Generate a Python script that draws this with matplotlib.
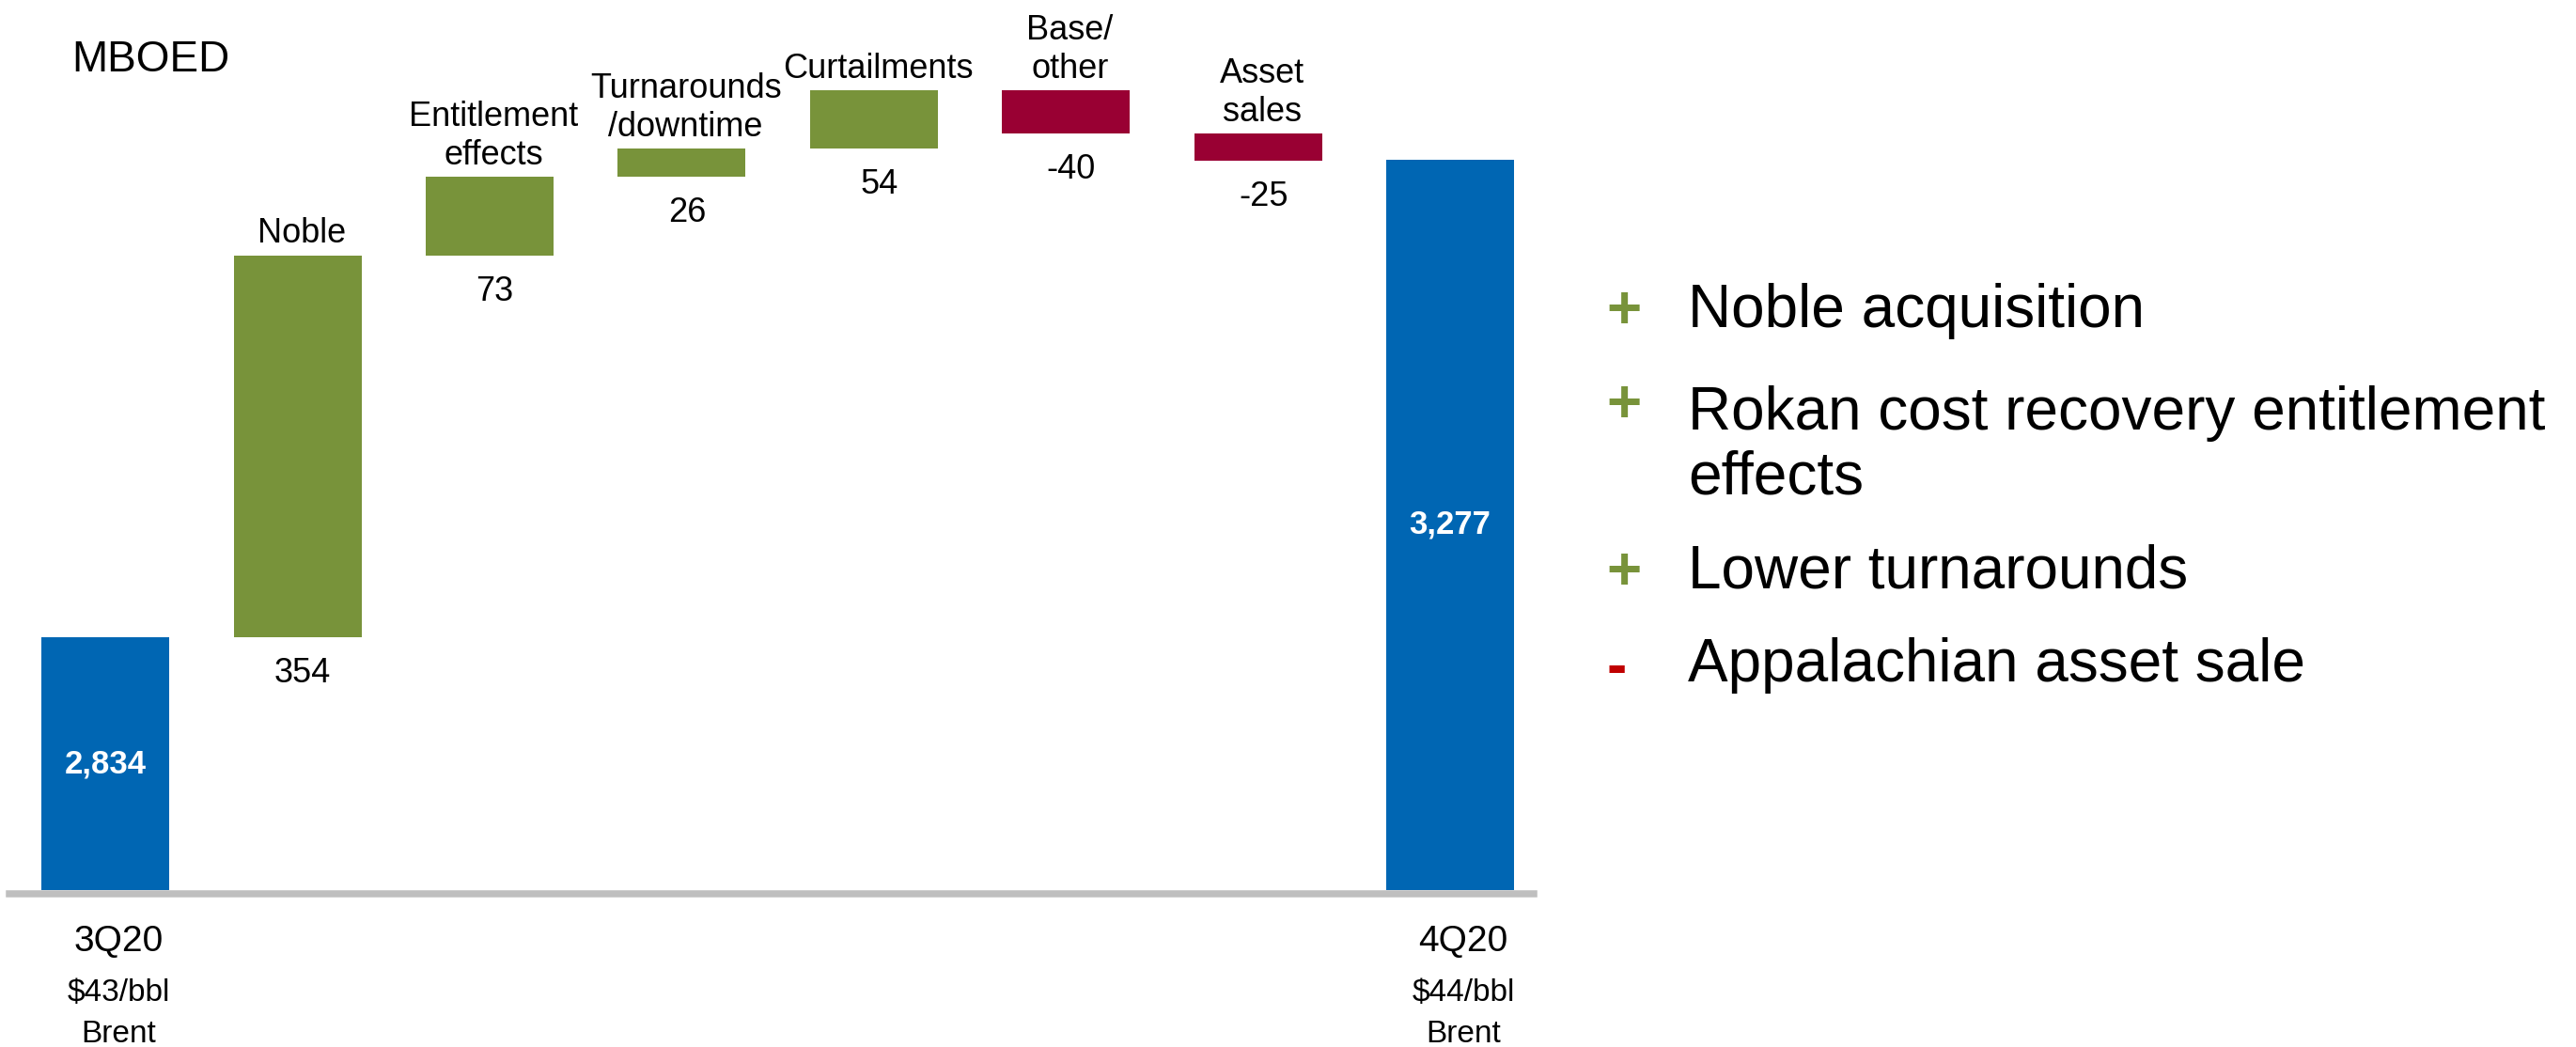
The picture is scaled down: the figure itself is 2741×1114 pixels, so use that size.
import numpy as np
import matplotlib
matplotlib.use("Agg")
import matplotlib.pyplot as plt
from matplotlib.lines import Line2D

plt.rcParams['font.family'] = ['Liberation Sans', 'DejaVu Sans']

# data
start_label = '3Q20'
end_label = '4Q20'
start_value = 2834
end_value = 3277
step_labels = ['Noble', 'Entitlement\neffects', 'Turnarounds\n/downtime',
               'Curtailments', 'Base/\nother', 'Asset\nsales']
step_values = [354, 73, 26, 54, -40, -25]
start_note = ['$43/bbl', 'Brent']
end_note = ['$44/bbl', 'Brent']

bullets = [('+', 'Noble acquisition'),
           ('+', 'Rokan cost recovery entitlement\neffects'),
           ('+', 'Lower turnarounds'),
           ('-', 'Appalachian asset sale')]

BLUE = '#0066B3'
GREEN = '#78933A'
RED = '#990033'
GRAY = '#BFBFBF'

W, H = 2741, 1114
fig = plt.figure(figsize=(W / 100, H / 100), dpi=100)

def px(x, y):
    return x / W, 1 - y / H

# axes: x from 10px to 1632px, y from 0 to 947px
ax = fig.add_axes([10 / W, 1 - 947 / H, 1622 / W, 947 / H])
ax.set_xlim(-0.5, 7.435)
ax.set_ylim(2600, 3425)
ax.axis('off')

ymin = ax.get_ylim()[0]
width = 0.665

# start / end totals
n = len(step_values)
ax.bar([0, n + 1], [start_value - ymin, end_value - ymin], bottom=ymin,
       width=width, color=BLUE, zorder=3)
for x, v in [(0, start_value), (n + 1, end_value)]:
    ax.text(x, (ymin + v) / 2, f'{v:,}', color='white', fontsize=25,
            fontweight='bold', ha='center', va='center', zorder=4)

# steps
cum = start_value
for i, (lab, v) in enumerate(zip(step_labels, step_values)):
    x = i + 1
    lo, hi = (cum, cum + v) if v >= 0 else (cum + v, cum)
    ax.bar(x, hi - lo, bottom=lo, width=width,
           color=GREEN if v >= 0 else RED, zorder=3)
    ax.annotate(lab, (x, hi), xytext=(3, 4), textcoords='offset points',
                ha='center', va='bottom', fontsize=26, linespacing=1.2)
    ax.annotate(str(v), (x, lo), xytext=(4, -15), textcoords='offset points',
                ha='center', va='top', fontsize=26)
    cum += v

# baseline
fig.add_artist(Line2D([10 / W, 1632 / W], [1 - 951 / H] * 2,
                      transform=fig.transFigure, color=GRAY, lw=5.4))

# bottom category labels
for x, lab, note in [(0, start_label, start_note), (n + 1, end_label, end_note)]:
    xf = ax.transData.transform((x, 0))[0] / W + 14 / W
    fig.text(xf, 1 - 1012 / H, lab, ha='center', va='baseline', fontsize=28)
    fig.text(xf, 1 - 1065 / H, note[0], ha='center', va='baseline', fontsize=24)
    fig.text(xf, 1 - 1109 / H, note[1], ha='center', va='baseline', fontsize=24)

# unit label
fig.text(*px(76, 76), 'MBOED', fontsize=33, ha='left', va='baseline')

# bullet list on the right
y = 348
for sign, txt in bullets:
    extra = 77 * txt.count('\n')
    if sign == '+':
        fig.text(*px(1728, y - 22), '+', color=GREEN, fontsize=46,
                 ha='center', va='center_baseline', fontweight='bold')
    else:
        fig.text(*px(1720, y - 20), '-', color='#C00000', fontsize=46,
                 ha='center', va='center_baseline', fontweight='bold')
    # multi-line baseline alignment goes by the last line
    fig.text(*px(1796, y + extra), txt, fontsize=46, ha='left', va='baseline',
             linespacing=1.17)
    y += 100 + extra

fig.savefig('out.png', dpi=100)
